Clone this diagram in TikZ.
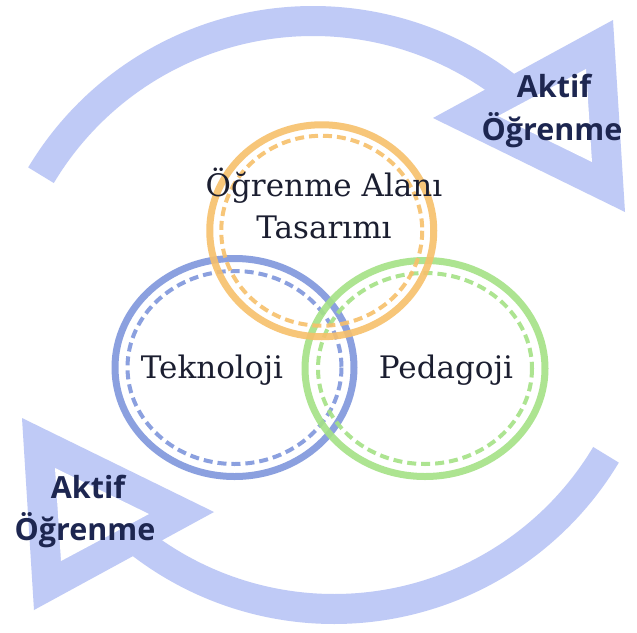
\documentclass[tikz,border=0pt]{standalone}
\usepackage{fontspec}
\setmainfont{DejaVu Serif}
\newfontfamily\osans{Open Sans}
\definecolor{arcblue}{HTML}{BFCAF6}
\definecolor{corange}{HTML}{F7C06B}
\definecolor{cblue}{HTML}{7F96DC}
\definecolor{cgreen}{HTML}{A5E286}
\definecolor{navy}{HTML}{1D2650}
\definecolor{ink}{HTML}{1B1E30}
\begin{document}
\begin{tikzpicture}[x=1pt,y=-1pt,
  band/.style={draw=arcblue, line width=30pt},
  solidring/.style={line width=7pt, draw opacity=0.9},
  dashring/.style={line width=4pt, dash pattern=on 9pt off 5pt, draw opacity=0.9},
  serifl/.style={text=ink, font=\fontsize{31}{36}\selectfont, anchor=base, inner sep=0pt},
  boldl/.style={text=navy, font=\osans\bfseries\fontsize{30.5}{36}\selectfont, anchor=base, inner sep=0pt}]
\fill[white] (0,0) rectangle (637,632);
\useasboundingbox (0,0) rectangle (637,632);
% cycle arrows (second one is the first turned half round)
\foreach \ang in {0,180}{
  \begin{scope}[rotate around={\ang:(323.5,315)}]
    \draw[band] (313,338) ++(210.9:317) arc[start angle=210.9, end angle=308, radius=317];
    \fill[arcblue] (613,20) -- (433,118) -- (625,212) -- cycle;
    \fill[white] (586,69) -- (498,116) -- (592,162) -- cycle;
  \end{scope}
}
% rings
\draw[cblue, solidring] (234.5,367.5) ellipse [x radius=119.5, y radius=109];
\draw[cblue, dashring] (234.5,367.5) ellipse [x radius=107, y radius=96.5];
\draw[cgreen, solidring] (425,368.5) ellipse [x radius=120, y radius=108];
\draw[cgreen, dashring] (425,368.5) ellipse [x radius=107, y radius=95.5];
\draw[corange, solidring] (321.75,230.75) ellipse [x radius=112, y radius=106];
\draw[corange, dashring] (321.75,230.75) ellipse [x radius=100.5, y radius=95];
% labels
\node[serifl] (olt1) at (324,196) {Öğrenme Alanı};
\node[serifl] (olt2) at (324,238) {Tasarımı};
\node[serifl] (tek) at (212,378) {Teknoloji};
\node[serifl] (ped) at (446,378) {Pedagoji};
\node[boldl] (ak1) at (554,97) {Aktif};
\node[boldl] (og1) at (552,140) {Öğrenme};
\node[boldl] (ak2) at (88,498) {Aktif};
\node[boldl] (og2) at (85,540) {Öğrenme};
\end{tikzpicture}
\end{document}
